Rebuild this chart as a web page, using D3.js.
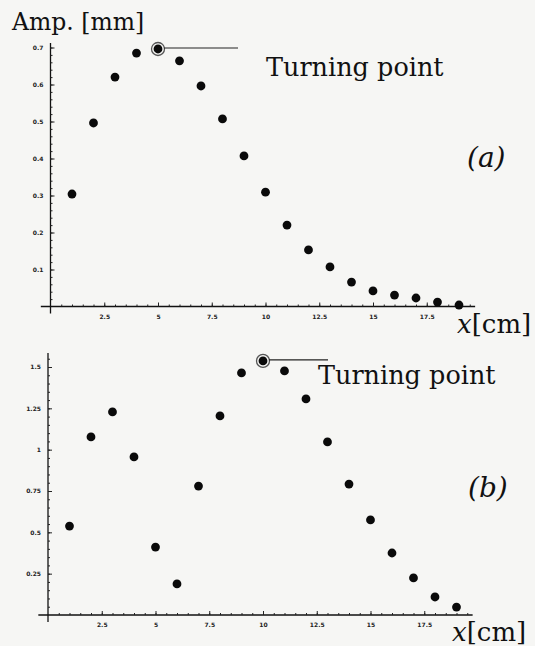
<!DOCTYPE html>
<html>
<head>
<meta charset="utf-8">
<script src="https://cdn.jsdelivr.net/npm/d3@7"></script>
<style>
  body { margin: 0; background: #f6f6f4; }
  svg { display: block; }
  text.lbl { font-family: "DejaVu Serif", serif; }
</style>
</head>
<body>
<div id="chart"></div>
<script>
// positions along the tube (cm), same for both runs
var xs = [1, 2, 3, 4, 5, 6, 7, 8, 9, 10, 11, 12, 13, 14, 15, 16, 17, 18, 19];

// (a) amplitude in mm
var ampA = [0.304, 0.496, 0.620, 0.685, 0.696, 0.664, 0.596, 0.507, 0.407, 0.309,
            0.220, 0.153, 0.107, 0.066, 0.042, 0.031, 0.023, 0.012, 0.004];
// (b) amplitude in mm
var ampB = [0.538, 1.077, 1.228, 0.956, 0.411, 0.188, 0.780, 1.204, 1.464, 1.537,
            1.476, 1.307, 1.047, 0.792, 0.575, 0.375, 0.224, 0.109, 0.048];

var xTicks = [2.5, 5, 7.5, 10, 12.5, 15, 17.5];
var yTicksA = [0.1, 0.2, 0.3, 0.4, 0.5, 0.6, 0.7];
var yTicksB = [0.25, 0.5, 0.75, 1, 1.25, 1.5];
var turnA = 5, turnB = 10; // index+1 of the turning point

var W = 535, H = 646;
var svg = d3.select("#chart").append("svg")
    .attr("width", W).attr("height", H);

svg.append("rect").attr("width", W).attr("height", H).style("fill", "#f6f6f4");

function label(g, x, y, size, txt) {
    return g.append("text")
        .attr("class", "lbl")
        .attr("x", x).attr("y", y)
        .attr("font-size", size)
        .attr("fill", "#111")
        .text(txt);
}

function styleTicks(s) {
    s.select(".domain").remove();
    s.selectAll("line").style("stroke", "#222");
    s.selectAll("text")
        .style("font-family", "'DejaVu Sans', sans-serif")
        .style("font-size", "6px")
        .style("font-weight", "bold")
        .style("fill", "#222");
}

function panel(cfg) {
    var x = d3.scaleLinear().domain([0, 17.5]).range([cfg.x0, cfg.x0 + 17.5 * 21.5]);
    var y = d3.scaleLinear().domain([0, cfg.yMax]).range([cfg.y0, cfg.yTop]);
    var fmt = function(d) { return String(d); };

    var g = svg.append("g");

    // axis lines, Mathematica style crossing at the origin
    g.append("line")
        .attr("x1", x(-0.45)).attr("x2", x(19.75))
        .attr("y1", y(0)).attr("y2", y(0))
        .style("stroke", "#111").style("stroke-width", 1.3);
    g.append("line")
        .attr("x1", x(0)).attr("x2", x(0))
        .attr("y1", y(0) + 7).attr("y2", y(cfg.yEnd))
        .style("stroke", "#111").style("stroke-width", 1.3);

    // minor ticks
    g.append("g")
        .attr("transform", "translate(0," + y(0) + ")")
        .call(d3.axisTop(x).tickValues(d3.range(0.5, 19.6, 0.5)).tickSize(2).tickFormat(""))
        .call(styleTicks);
    g.append("g")
        .attr("transform", "translate(" + x(0) + ",0)")
        .call(d3.axisRight(y).tickValues(d3.range(cfg.yMinor, cfg.yEnd, cfg.yMinor)).tickSize(2).tickFormat(""))
        .call(styleTicks);

    // major ticks + labels
    g.append("g")
        .attr("transform", "translate(0," + y(0) + ")")
        .call(d3.axisBottom(x).tickValues(xTicks).tickSize(0).tickPadding(8).tickFormat(fmt))
        .call(styleTicks);
    g.append("g")
        .attr("transform", "translate(0," + y(0) + ")")
        .call(d3.axisTop(x).tickValues(xTicks).tickSize(4).tickFormat(""))
        .call(styleTicks);

    g.append("g")
        .attr("transform", "translate(" + x(0) + ",0)")
        .call(d3.axisLeft(y).tickValues(cfg.yTicks).tickSize(0).tickPadding(7).tickFormat(fmt))
        .call(styleTicks);
    g.append("g")
        .attr("transform", "translate(" + x(0) + ",0)")
        .call(d3.axisRight(y).tickValues(cfg.yTicks).tickSize(4).tickFormat(""))
        .call(styleTicks);

    // points
    g.selectAll("circle.dot")
        .data(xs)
        .enter()
        .append("circle")
        .attr("class", "dot")
        .attr("cx", function(d) { return x(d); })
        .attr("cy", function(d, i) { return y(cfg.amp[i]); })
        .attr("r", 4.4)
        .style("fill", "#0a0a0a");

    // turning point ring + leader line
    var ti = cfg.turn - 1;
    var tx = x(xs[ti]), ty = y(cfg.amp[ti]);
    g.append("circle")
        .attr("cx", tx).attr("cy", ty).attr("r", 6.5)
        .style("fill", "none").style("stroke", "#555").style("stroke-width", 1.3);
    g.append("line")
        .attr("x1", tx + 6).attr("x2", cfg.leadEnd)
        .attr("y1", ty - 1).attr("y2", ty - 1)
        .style("stroke", "#222").style("stroke-width", 1.1);
    label(g, cfg.tpX, cfg.tpY, 25.5, "Turning point");

    // panel tag
    label(g, cfg.tagX, cfg.tagY, 28, cfg.tag).attr("font-style", "italic");

    // x axis title
    var xt = label(g, cfg.xtX, cfg.xtY, 26, "");
    xt.append("tspan").attr("font-style", "italic").text("x");
    xt.append("tspan").text("[cm]");
}

label(svg, 12, 30, 23.5, "Amp. [mm]");

panel({
    x0: 50.5, y0: 306.5, yTop: 47.5, yMax: 0.7, yEnd: 0.712, yMinor: 0.02,
    yTicks: yTicksA, amp: ampA, turn: turnA, leadEnd: 238,
    tpX: 266, tpY: 76, tag: "(a)", tagX: 467, tagY: 167, xtX: 457, xtY: 333
});

panel({
    x0: 48, y0: 615, yTop: 367, yMax: 1.5, yEnd: 1.585, yMinor: 0.05,
    yTicks: yTicksB, amp: ampB, turn: turnB, leadEnd: 328,
    tpX: 318, tpY: 384, tag: "(b)", tagX: 468, tagY: 497, xtX: 452, xtY: 641
});
</script>
</body>
</html>
